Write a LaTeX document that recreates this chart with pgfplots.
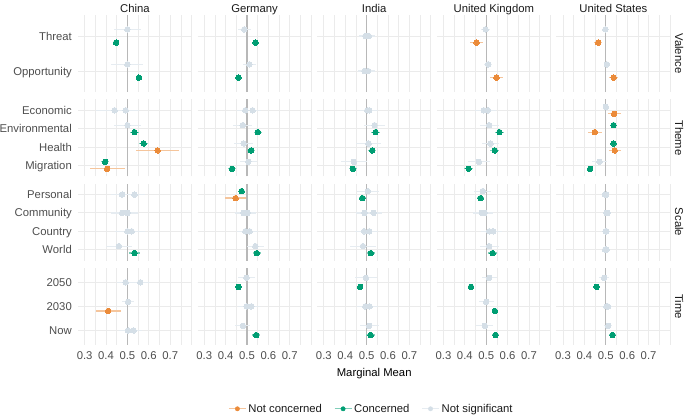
\documentclass[border=0pt]{standalone}
\usepackage{fontspec}
\setmainfont{Liberation Sans}
\usepackage{pgfplots}
\pgfplotsset{compat=1.18}
\usepgfplotslibrary{groupplots}

\definecolor{gridC}{HTML}{EBEBEB}
\definecolor{zeroC}{HTML}{B8B8B8}
\definecolor{axT}{HTML}{4D4D4D}
\definecolor{stT}{HTML}{1A1A1A}
\definecolor{ncO}{HTML}{EB8B3A}
\definecolor{ncOL}{HTML}{F5C59C}
\definecolor{cG}{HTML}{009E73}
\definecolor{cGL}{HTML}{80CEB9}
\definecolor{nsC}{HTML}{D5DFE7}
\definecolor{nsL}{HTML}{E6ECF1}

\newcommand\fs{\fontsize{11.3}{13}\selectfont}

\pgfplotsset{
  facet/.style={
    set layers, mark layer=axis foreground,
    scale only axis, width=114pt, height=77pt,
    xmin=0.269, xmax=0.802,
    xtick={0.3,0.4,0.5,0.6,0.7},
    minor xtick={0.35,0.45,0.55,0.65,0.75,0.8},
    extra x ticks={0.5}, extra x tick labels={},
    extra x tick style={major grid style={color=zeroC, line width=1.3pt}},
    xmajorgrids, xminorgrids, ymajorgrids,
    major grid style={color=gridC, line width=0.9pt},
    minor grid style={color=gridC, line width=0.6pt},
    axis line style={draw=none}, tick style={draw=none},
    major tick length=0pt, minor tick length=0pt,
    xticklabel style={font=\fs, text=axT, inner sep=0pt, anchor=base, yshift=-15pt},
    yticklabel style={font=\fs, text=axT, inner sep=0pt, anchor=base east, xshift=-6pt, yshift=-4.05pt},
    xticklabels={},
  },
  r1/.style={ymin=0.4, ymax=2.6, ytick={1,2}, yticklabels={}},
  r2/.style={ymin=0.4, ymax=4.6, ytick={1,2,3,4}, yticklabels={}},
  r3/.style={ymin=0.4, ymax=4.6, ytick={1,2,3,4}, yticklabels={}},
  r4/.style={ymin=0.4, ymax=3.6, ytick={1,2,3}, yticklabels={}, xticklabels={0.3,0.4,0.5,0.6,0.7}},
  pt/.style n args={2}{color=#1, only marks, mark=*, mark size=2.75pt,
    mark options={draw=#1, fill=#1, line width=0pt},
    error bars/x dir=both, error bars/x explicit, error bars/error mark=none,
    error bars/error bar style={color=#2, line width=1.2pt}},
  gs/.style={pt={nsC}{nsL}},
  gr/.style={pt={cG}{cGL}},
  or/.style={pt={ncO}{ncOL}},
}

\begin{document}
\begin{tikzpicture}
\begin{groupplot}[group style={group size=5 by 4, horizontal sep=5.6pt, vertical sep=7.3pt}, facet]
% ---------------- Valence ----------------
\nextgroupplot[r1, yticklabels={Opportunity,Threat}]
\addplot[gs] coordinates {(0.500,2.19) +- (0.064,0) (0.500,1.19) +- (0.075,0)};
\addplot[gr] coordinates {(0.447,1.81) +- (0.012,0) (0.554,0.81) +- (0.012,0)};
\nextgroupplot[r1]
\addplot[gs] coordinates {(0.487,2.19) +- (0.03,0) (0.511,1.19) +- (0.03,0)};
\addplot[gr] coordinates {(0.540,1.81) +- (0.012,0) (0.460,0.81) +- (0.012,0)};
\nextgroupplot[r1]
\addplot[gs] coordinates {(0.495,2) +- (0.03,0) (0.510,2) +- (0.03,0) (0.490,1) +- (0.03,0) (0.507,1) +- (0.03,0)};
\nextgroupplot[r1]
\addplot[gs] coordinates {(0.497,2.19) +- (0.02,0) (0.509,1.19) +- (0.02,0)};
\addplot[or] coordinates {(0.455,1.81) +- (0.03,0) (0.548,0.81) +- (0.03,0)};
\nextgroupplot[r1]
\addplot[gs] coordinates {(0.498,2.19) +- (0.012,0) (0.505,1.19) +- (0.012,0)};
\addplot[or] coordinates {(0.464,1.81) +- (0.02,0) (0.537,0.81) +- (0.02,0)};
% ---------------- Theme ----------------
\nextgroupplot[r2, yticklabels={Migration,Health,Environmental,Economic}]
\addplot[gs] coordinates {(0.440,4) +- (0.085,0) (0.492,4) +- (0.06,0) (0.500,3.19) +- (0.064,0)};
\addplot[gr] coordinates {(0.533,2.81) +- (0.022,0) (0.576,2.19) +- (0.02,0) (0.396,1.19) +- (0.02,0)};
\addplot[or] coordinates {(0.641,1.81) +- (0.102,0) (0.405,0.81) +- (0.082,0)};
\nextgroupplot[r2]
\addplot[gs] coordinates {(0.492,4) +- (0.04,0) (0.526,4) +- (0.04,0) (0.480,3.19) +- (0.045,0) (0.484,2.19) +- (0.045,0) (0.506,1.19) +- (0.04,0)};
\addplot[gr] coordinates {(0.551,2.81) +- (0.02,0) (0.519,1.81) +- (0.02,0) (0.430,0.81) +- (0.02,0)};
\nextgroupplot[r2]
\addplot[gs] coordinates {(0.503,4) +- (0.04,0) (0.512,4) +- (0.04,0) (0.537,3.19) +- (0.05,0) (0.509,2.19) +- (0.06,0) (0.440,1.19) +- (0.06,0)};
\addplot[gr] coordinates {(0.542,2.81) +- (0.02,0) (0.526,1.81) +- (0.02,0) (0.436,0.81) +- (0.02,0)};
\nextgroupplot[r2]
\addplot[gs] coordinates {(0.489,4) +- (0.04,0) (0.508,4) +- (0.04,0) (0.514,3.19) +- (0.045,0) (0.520,2.19) +- (0.04,0) (0.466,1.19) +- (0.05,0)};
\addplot[gr] coordinates {(0.562,2.81) +- (0.02,0) (0.540,1.81) +- (0.02,0) (0.418,0.81) +- (0.02,0)};
\nextgroupplot[r2]
\addplot[gs] coordinates {(0.500,4.19) +- (0.015,0) (0.470,1.19) +- (0.035,0)};
\addplot[gr] coordinates {(0.536,3.19) +- (0.015,0) (0.536,2.19) +- (0.015,0) (0.427,0.81) +- (0.015,0)};
\addplot[or] coordinates {(0.539,3.81) +- (0.031,0) (0.449,2.81) +- (0.032,0) (0.542,1.81) +- (0.028,0)};
% ---------------- Scale ----------------
\nextgroupplot[r3, yticklabels={World,Country,Community,Personal}]
\addplot[gs] coordinates {(0.475,4) +- (0.05,0) (0.533,4) +- (0.05,0) (0.475,3) +- (0.05,0) (0.500,3) +- (0.05,0) (0.500,2) +- (0.06,0) (0.520,2) +- (0.06,0) (0.460,1.19) +- (0.06,0)};
\addplot[gr] coordinates {(0.533,0.81) +- (0.025,0)};
\nextgroupplot[r3]
\addplot[gs] coordinates {(0.484,3) +- (0.04,0) (0.503,3) +- (0.04,0) (0.492,2) +- (0.04,0) (0.512,2) +- (0.04,0) (0.539,1.19) +- (0.04,0)};
\addplot[gr] coordinates {(0.475,4.19) +- (0.015,0) (0.546,0.81) +- (0.02,0)};
\addplot[or] coordinates {(0.447,3.81) +- (0.05,0)};
\nextgroupplot[r3]
\addplot[gs] coordinates {(0.506,4.19) +- (0.05,0) (0.490,3) +- (0.04,0) (0.533,3) +- (0.04,0) (0.488,2) +- (0.04,0) (0.512,2) +- (0.04,0) (0.483,1.19) +- (0.06,0)};
\addplot[gr] coordinates {(0.480,3.81) +- (0.015,0) (0.520,0.81) +- (0.02,0)};
\nextgroupplot[r3]
\addplot[gs] coordinates {(0.484,4.19) +- (0.04,0) (0.480,3) +- (0.04,0) (0.492,3) +- (0.04,0) (0.514,2) +- (0.04,0) (0.532,2) +- (0.04,0) (0.514,1.19) +- (0.045,0)};
\addplot[gr] coordinates {(0.474,3.81) +- (0.015,0) (0.530,0.81) +- (0.02,0)};
\nextgroupplot[r3]
\addplot[gs] coordinates {(0.496,4) +- (0.015,0) (0.502,4) +- (0.015,0) (0.503,3) +- (0.015,0) (0.508,3) +- (0.015,0) (0.499,2) +- (0.015,0) (0.503,2) +- (0.015,0) (0.497,1) +- (0.015,0) (0.503,1) +- (0.015,0)};
% ---------------- Time ----------------
\nextgroupplot[r4, yticklabels={Now,2030,2050}]
\addplot[gs] coordinates {(0.492,3) +- (0.04,0) (0.560,3) +- (0.045,0) (0.503,2.19) +- (0.03,0) (0.503,1) +- (0.04,0) (0.529,1) +- (0.04,0)};
\addplot[or] coordinates {(0.410,1.81) +- (0.058,0)};
\nextgroupplot[r4]
\addplot[gs] coordinates {(0.497,3.19) +- (0.04,0) (0.498,2) +- (0.04,0) (0.520,2) +- (0.04,0) (0.481,1.19) +- (0.035,0)};
\addplot[gr] coordinates {(0.460,2.81) +- (0.015,0) (0.543,0.81) +- (0.02,0)};
\nextgroupplot[r4,
  legend columns=3,
  legend style={at={(0.476,-0.83)}, anchor=center, draw=none, fill=none, font=\fs, text=stT,
    /tikz/every even column/.append style={column sep=10pt}},
  ]
\addlegendimage{legend image code/.code={\draw[color=ncOL, line width=1.2pt] (0pt,0pt) -- (17pt,0pt); \fill[ncO] (8.5pt,0pt) circle (2.2pt);}}
\addlegendentry{Not concerned}
\addlegendimage{legend image code/.code={\draw[color=cGL, line width=1.2pt] (0pt,0pt) -- (17pt,0pt); \fill[cG] (8.5pt,0pt) circle (2.2pt);}}
\addlegendentry{Concerned}
\addlegendimage{legend image code/.code={\draw[color=nsL, line width=1.2pt] (0pt,0pt) -- (17pt,0pt); \fill[nsC] (8.5pt,0pt) circle (2.2pt);}}
\addlegendentry{Not significant}
\addplot[forget plot, gs] coordinates {(0.497,3.19) +- (0.05,0) (0.494,2) +- (0.04,0) (0.514,2) +- (0.04,0) (0.512,1.19) +- (0.045,0)};
\addplot[forget plot, gr] coordinates {(0.470,2.81) +- (0.015,0) (0.519,0.81) +- (0.02,0)};
\nextgroupplot[r4]
\addplot[gs] coordinates {(0.514,3.19) +- (0.035,0) (0.500,2.19) +- (0.035,0) (0.494,1.19) +- (0.04,0)};
\addplot[gr] coordinates {(0.429,2.81) +- (0.015,0) (0.540,1.81) +- (0.015,0) (0.543,0.81) +- (0.015,0)};
\nextgroupplot[r4]
\addplot[gs] coordinates {(0.492,3.19) +- (0.025,0) (0.503,2) +- (0.02,0) (0.510,2) +- (0.02,0) (0.511,1.19) +- (0.02,0)};
\addplot[gr] coordinates {(0.457,2.81) +- (0.015,0) (0.531,0.81) +- (0.015,0)};
\end{groupplot}
% facet strip labels
\foreach \c/\lab in {1/China,2/Germany,3/India,4/United Kingdom,5/United States}{
  \node[font=\fs, text=stT, inner sep=0pt, anchor=base, yshift=2.95pt] at (group c\c r1.north) {\lab};
}
\foreach \r/\lab in {1/Valence,2/Theme,3/Scale,4/Time}{
  \node[font=\fs, text=stT, inner sep=0pt, anchor=base, xshift=4.6pt, rotate=-90] at (group c5r\r.east) {\lab};
}
\node[font=\fs, text=black, inner sep=0pt, anchor=base] at ([yshift=-32pt]group c3r4.south) {Marginal Mean};
\pgfresetboundingbox
\path[use as bounding box] ([shift={(-78pt,15pt)}]group c1r1.north west) rectangle ([shift={(607pt,-400pt)}]group c1r1.north west);
\end{tikzpicture}
\end{document}
